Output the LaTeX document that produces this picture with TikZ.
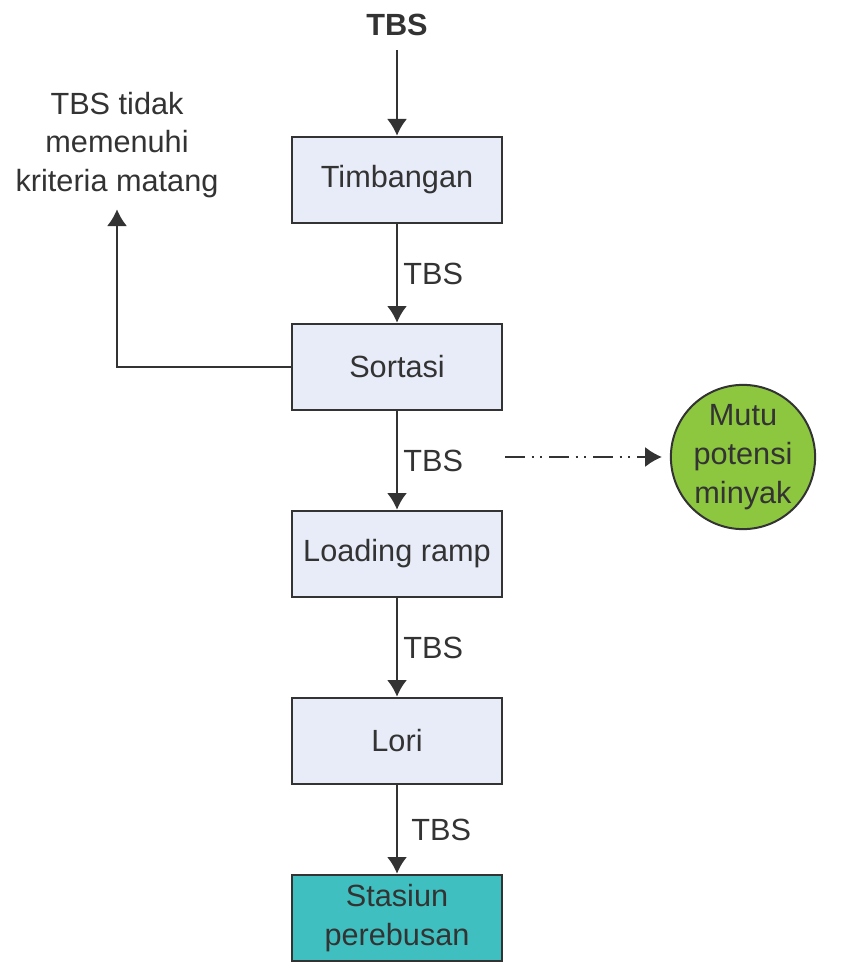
\documentclass[tikz,border=0pt]{standalone}
\usepackage{fontspec}
\setmainfont{Liberation Sans}
\usetikzlibrary{arrows.meta}

\definecolor{kotak}{HTML}{E8ECF8}
\definecolor{garis}{HTML}{333333}
\definecolor{hijau}{HTML}{8DC63F}
\definecolor{tosca}{HTML}{3FBFC0}

\begin{document}
\begin{tikzpicture}[x=0.75pt, y=-0.75pt,
    font=\fontsize{23}{29}\selectfont, text=garis,
    proses/.style={draw=garis, line width=1.5pt, fill=kotak, minimum width=158pt, minimum height=65pt, align=center},
    alir/.style={draw=garis, line width=1.5pt, -{Latex[length=12.5pt,width=15pt]}},
    ket/.style={right, inner sep=4pt}]
  \useasboundingbox (0,0) rectangle (845,966);
  % Masukan
  \node[font=\fontsize{23}{29}\selectfont\bfseries] (tbs) at (397,25) {TBS};
  % Kotak proses
  \node[proses] (timbangan) at (397,180) {Timbangan};
  \node[proses] (sortasi) at (397,367) {Sortasi};
  \node[proses] (loading) at (397,554) {Loading ramp};
  \node[proses] (lori) at (397,741) {Lori};
  \node[proses, fill=tosca] (stasiun) at (397,918) {Stasiun\\perebusan};
  % Keluaran samping
  \node[align=center] (tolak) at (117,145) {TBS tidak\\memenuhi\\kriteria matang};
  \node[circle, draw=garis, line width=1.5pt, fill=hijau, minimum size=104pt, inner sep=0pt, align=center] (mutu) at (743,457) {Mutu\\potensi\\minyak};
  \coordinate (dd) at (505,457);
  % Aliran TBS
  \draw[alir, shorten <=7pt] (tbs) -- (timbangan);
  \draw[alir] (timbangan) -- node[ket] {TBS} (sortasi);
  \draw[alir] (sortasi) -- node[ket] {TBS} (loading);
  \draw[alir] (loading) -- node[ket] {TBS} (lori);
  \draw[alir] (lori) -- node[ket, xshift=6pt] {TBS} (stasiun);
  \draw[alir, shorten >=5pt] (sortasi.west) -| (tolak.south);
  \draw[alir, shorten >=6pt, dash pattern=on 15pt off 5pt on 1.5pt off 5pt on 1.5pt off 5pt] (dd) -- (mutu.west);
\end{tikzpicture}
\end{document}
